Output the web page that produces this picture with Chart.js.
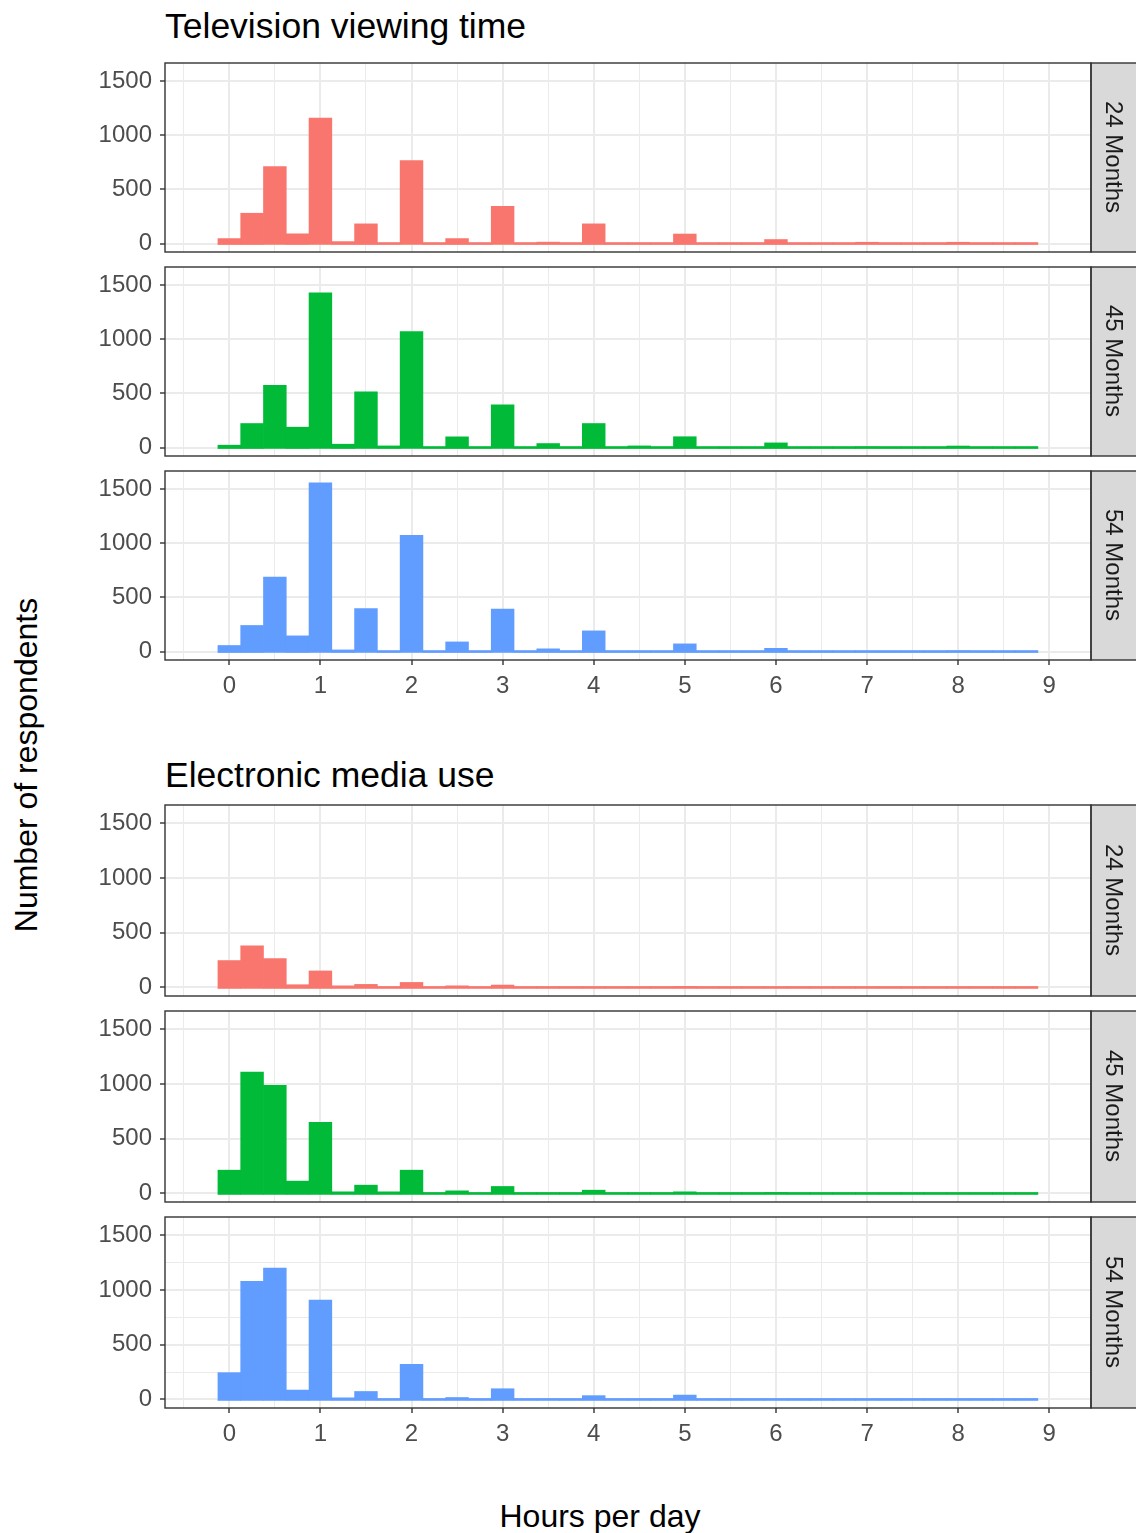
<!DOCTYPE html>
<html>
<head>
<meta charset="utf-8">
<title>Television viewing time / Electronic media use</title>
<script src="https://cdn.jsdelivr.net/npm/chart.js@4.4.1/dist/chart.umd.min.js"></script>
<style>
  html, body { margin: 0; padding: 0; background: #fff; }
  #page { position: relative; width: 1136px; height: 1533px; overflow: hidden;
          font-family: "Liberation Sans", Arial, sans-serif; }
  #page canvas { position: absolute; left: 0; }
  .title { position: absolute; left: 165px; font-size: 35.5px; line-height: 35px; color: #000; white-space: nowrap; }
  .strip { position: absolute; left: 1091px; width: 45px; display: flex; align-items: center; justify-content: center; }
  .strip span { writing-mode: vertical-rl; font-size: 24px; line-height: 24px; color: #1A1A1A; white-space: nowrap; }
  .axis-title { position: absolute; font-size: 32px; line-height: 32px; color: #000; white-space: nowrap; }
  #ytitle { left: 26px; top: 765px; transform: translate(-50%, -50%) rotate(-90deg); }
  #xtitle { left: 600px; top: 1500px; transform: translateX(-50%); }
</style>
</head>
<body>
<div id="page">
  <div class="title" style="top:9px">Television viewing time</div>
  <div class="title" style="top:758px">Electronic media use</div>
  <div class="axis-title" id="ytitle">Number of respondents</div>
  <div class="axis-title" id="xtitle">Hours per day</div>
</div>
<script>
// histogram bins (hours per day, bin width 0.25)
const binCenters = [0, 0.25, 0.5, 0.75, 1, 1.25, 1.5, 1.75, 2, 2.25, 2.5, 2.75,
  3, 3.25, 3.5, 3.75, 4, 4.25, 4.5, 4.75, 5, 5.25, 5.5, 5.75,
  6, 6.25, 6.5, 6.75, 7, 7.25, 7.5, 7.75, 8, 8.25, 8.5, 8.75];

// counts
const tv24 = [46,280,710,90,1160,18,182,3,766,3,46,2,343,2,13,1,182,1,4,1,88,1,2,0,37,0,1,0,12,0,1,0,12,0,0,0];
const tv45 = [22,222,574,188,1429,31,515,15,1071,6,99,5,395,5,37,4,222,2,15,2,100,1,3,1,43,1,2,0,10,0,1,0,14,0,0,0];
const tv54 = [56,241,688,145,1558,15,398,3,1074,3,89,2,392,2,25,2,191,1,9,1,71,1,2,0,30,0,1,0,8,0,1,0,10,0,0,0];
const em24 = [246,381,264,25,151,15,28,6,46,6,15,5,22,3,5,2,8,1,2,1,10,0,1,0,3,0,0,0,1,0,0,0,1,0,0,0];
const em45 = [213,1110,989,113,651,15,76,15,213,9,24,9,64,5,8,4,30,2,4,1,15,1,2,0,10,0,1,0,3,0,0,0,2,0,0,0];
const em54 = [245,1080,1200,86,909,15,73,9,321,9,18,9,98,5,5,4,35,2,4,1,40,1,2,0,8,0,1,0,3,0,0,0,2,0,0,0];

// axis ticks
const xMajorTicks = [0, 1, 2, 3, 4, 5, 6, 7, 8, 9];
const xMinorTicks = [-0.5, 0.5, 1.5, 2.5, 3.5, 4.5, 5.5, 6.5, 7.5, 8.5];
const yMajorTicks = [0, 500, 1000, 1500];
const yMinorTicks = [250, 750, 1250];
const stripLabels = ['24 Months', '45 Months', '54 Months'];

const colours = ['#F8766D', '#00BA38', '#619CFF'];
const X_MIN = -0.706, X_MAX = 9.458;
const Y_MIN = -78, Y_MAX = 1668;

Chart.defaults.font.family = '"Liberation Sans", Arial, sans-serif';
Chart.defaults.color = '#4D4D4D';

// panel border + grey strip on the right
const panelFrame = {
  id: 'panelFrame',
  afterDraw(chart) {
    const { ctx, chartArea: a } = chart;
    ctx.save();
    ctx.fillStyle = '#D9D9D9';
    ctx.fillRect(a.right, a.top, 80, a.bottom - a.top);
    ctx.strokeStyle = '#333333';
    ctx.lineWidth = 1.4;
    ctx.strokeRect(a.right, a.top, 80, a.bottom - a.top);
    ctx.strokeRect(a.left, a.top, a.right - a.left, a.bottom - a.top);
    ctx.restore();
  }
};

const isMajorX = v => xMajorTicks.includes(v);
const isMajorY = v => yMajorTicks.includes(v);

function makePanel(counts, colour, label, top, height, showX) {
  const page = document.getElementById('page');
  const pad = 4, xAxisH = showX ? 45 : 0;
  const canvas = document.createElement('canvas');
  canvas.width = 1136;
  canvas.height = pad + height + (showX ? xAxisH : pad);
  canvas.style.top = (top - pad) + 'px';
  page.appendChild(canvas);

  const strip = document.createElement('div');
  strip.className = 'strip';
  strip.style.top = top + 'px';
  strip.style.height = height + 'px';
  strip.innerHTML = '<span>' + label + '</span>';
  page.appendChild(strip);

  new Chart(canvas.getContext('2d'), {
    type: 'bar',
    data: {
      datasets: [{
        data: binCenters.map((x, i) => ({ x: x, y: counts[i] })),
        backgroundColor: colour,
        borderWidth: 0,
        barPercentage: 1,
        categoryPercentage: 1,
        base: -9,          // bars start 1px under zero, like the outlined ggplot bars
        minBarLength: 2
      }]
    },
    options: {
      responsive: false,
      maintainAspectRatio: false,
      animation: false,
      events: [],
      layout: { padding: { top: pad, right: 45, bottom: showX ? 0 : pad, left: 0 } },
      plugins: { legend: { display: false }, tooltip: { enabled: false } },
      scales: {
        x: {
          type: 'linear', min: X_MIN, max: X_MAX, offset: false,
          border: { display: false },
          grid: {
            offset: false,
            color: '#EBEBEB',
            lineWidth: c => (c.tick && isMajorX(c.tick.value)) ? 2 : 1,
            drawTicks: showX,
            tickLength: 5,
            tickWidth: 1.4,
            tickColor: c => (c.tick && isMajorX(c.tick.value)) ? '#333333' : 'rgba(0,0,0,0)'
          },
          ticks: {
            display: showX, autoSkip: false, maxRotation: 0, padding: 7,
            color: '#4D4D4D', font: { size: 24 },
            callback: v => isMajorX(v) ? String(v) : ''
          },
          afterBuildTicks: s => { s.ticks = xMinorTicks.concat(xMajorTicks).sort((a, b) => a - b).map(v => ({ value: v })); },
          afterFit: s => { s.height = xAxisH; s.paddingLeft = 0; s.paddingRight = 0; }
        },
        y: {
          type: 'linear', min: Y_MIN, max: Y_MAX,
          border: { display: false },
          grid: {
            color: '#EBEBEB',
            lineWidth: c => (c.tick && isMajorY(c.tick.value)) ? 2 : 1,
            tickLength: 5,
            tickWidth: 1.4,
            tickColor: c => (c.tick && isMajorY(c.tick.value)) ? '#333333' : 'rgba(0,0,0,0)'
          },
          ticks: {
            padding: 8, color: '#4D4D4D', font: { size: 24 },
            callback: v => isMajorY(v) ? String(v) : ''
          },
          afterBuildTicks: s => { s.ticks = yMinorTicks.concat(yMajorTicks).sort((a, b) => a - b).map(v => ({ value: v })); },
          afterFit: s => { s.width = 165; s.paddingTop = 0; s.paddingBottom = 0; }
        }
      }
    },
    plugins: [panelFrame]
  });
}

// Television viewing time
makePanel(tv24, colours[0], stripLabels[0], 63, 189, false);
makePanel(tv45, colours[1], stripLabels[1], 267, 189, false);
makePanel(tv54, colours[2], stripLabels[2], 471, 189, true);
// Electronic media use
makePanel(em24, colours[0], stripLabels[0], 805, 191, false);
makePanel(em45, colours[1], stripLabels[1], 1011, 191, false);
makePanel(em54, colours[2], stripLabels[2], 1217, 191, true);
</script>
</body>
</html>
